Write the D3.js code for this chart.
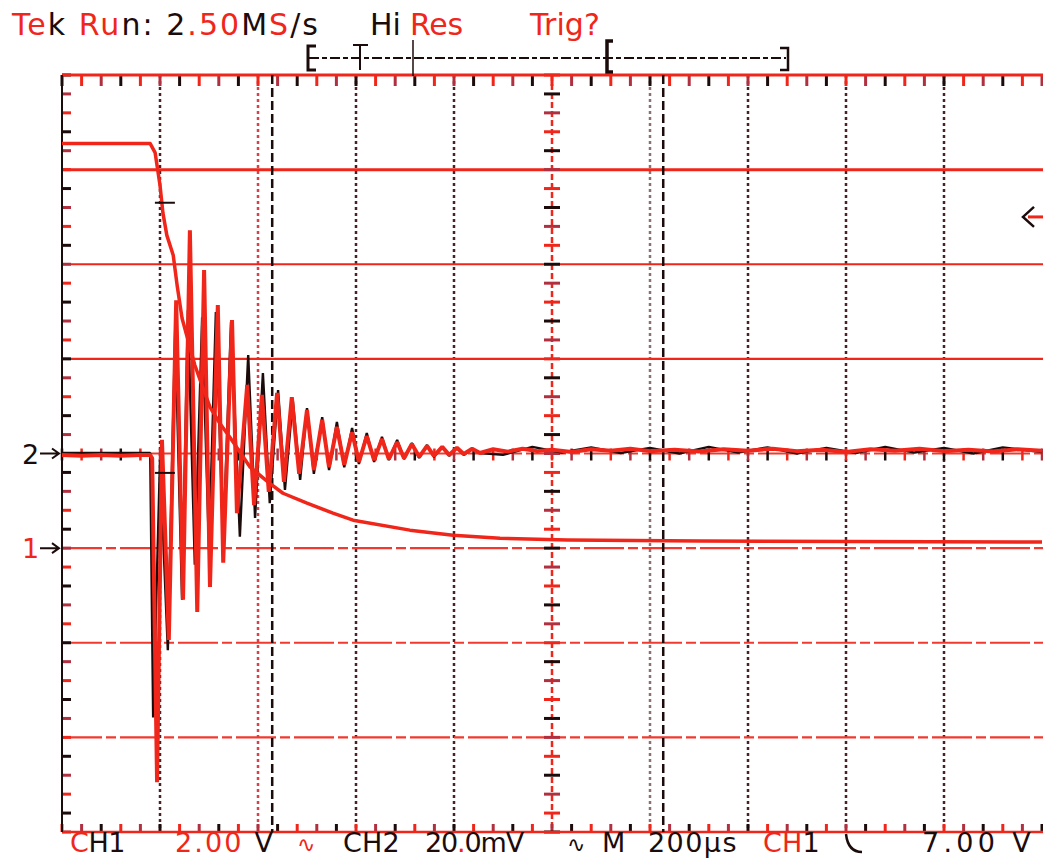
<!DOCTYPE html>
<html><head><meta charset="utf-8">
<script src="https://cdn.jsdelivr.net/npm/d3@7"></script>
<style>body{margin:0;background:#fff}svg{display:block}text{white-space:pre}</style>
</head><body>
<svg id="c" width="1043" height="859"></svg>
<script>
// ---- data (time in µs, CH1 in V, CH2 in mV) ----
const timeGrid = [0,200,400,600,800,1000,1200,1400,1600,1800,2000];
const ch1Grid = [-6,-4,-2,0,2,4,6,8,10];
const ch1Data = [[0,8.55],[180,8.55],[190,8.36],[200,7.67],[206,7.08],[214,6.61],[227,6.19],[235,5.55],[245,4.86],[261,4.25],[271,3.87],[282,3.55],[302,2.98],[322,2.64],[343,2.34],[363,2.03],[384,1.71],[424,1.37],[451,1.16],[500,0.95],[553,0.74],[594,0.59],[710,0.38],[798,0.27],[894,0.21],[1031,0.17],[1302,0.15],[2000,0.13]];
const ch2Black = [[0,0.1],[180,0.1],[186,-55.8],[200,-1.4],[216,-41.6],[231,26.1],[245,-30.9],[257,30.3],[271,-23.5],[286,28.8],[300,-20.4],[314,29.9],[329,-18.9],[345,27.8],[363,-17.6],[380,20.8],[394,-13.6],[410,17.0],[424,-10.5],[441,13.4],[455,-7.7],[471,11.3],[486,-5.6],[500,9.6],[514,-4.3],[531,7.7],[545,-3.5],[561,6.65],[576,-2.9],[592,5.4],[606,-2.2],[622,4.3],[637,-1.8],[653,3.5],[667,-1.4],[684,2.85],[698,-1.2],[714,2.2],[729,-0.95],[745,1.8],[759,-0.74],[776,1.4],[790,-0.5],[806,1.2],[820,-0.3],[837,1.0],[853,0.1],[900,-0.3],[960,1.4],[1020,0.2],[1080,1.3],[1140,0.1],[1200,1.2],[1260,0.0],[1320,1.4],[1380,0.2],[1440,1.3],[1500,0.0],[1560,1.2],[1620,0.1],[1680,1.4],[1740,0.2],[1800,1.2],[1860,0.0],[1920,1.3],[2000,0.3]];
const ch2Red = [[0,-0.3],[40,-0.5],[80,-0.3],[120,-0.5],[160,-0.3],[180,-0.3],[184,-1.0],[194,-69.5],[204,2.9],[218,-39.4],[233,32.4],[247,-30.9],[261,47.2],[276,-33.5],[290,38.8],[302,-28.2],[318,31.4],[329,-23.1],[347,28.2],[357,-12.6],[378,14.5],[392,-10.9],[408,12.4],[422,-8.1],[439,12.8],[453,-6.0],[469,11.9],[484,-4.3],[500,9.2],[514,-3.5],[531,7.1],[545,-2.9],[561,5.6],[576,-2.4],[592,4.5],[606,-1.8],[622,3.7],[637,-1.4],[653,3.1],[667,-1.2],[684,2.4],[698,-1.0],[714,2.0],[729,-0.7],[745,1.6],[759,-0.5],[776,1.4],[790,-0.3],[806,1.2],[820,-0.1],[837,1.0],[853,0.1],[880,0.9],[910,0.4],[940,1.0],[970,0.5],[1000,0.8],[1040,0.3],[1080,0.9],[1120,0.6],[1160,1.0],[1200,0.5],[1250,0.8],[1300,0.4],[1350,0.9],[1400,0.6],[1450,1.0],[1500,0.5],[1550,0.8],[1600,0.3],[1650,0.9],[1700,0.6],[1750,1.0],[1800,0.5],[1850,0.8],[1900,0.4],[1950,0.9],[2000,0.6]];
const cursorTimes = [429, 1227];
const crossMarks = [{t:210, ch:1, v:7.3}, {t:210, ch:2, v:-4.1}];
const trigLevel = 7.00;   // V on CH1
const headerTexts = ["Tek Run: 2.50MS/s", "Hi Res", "Trig?"];
const footerTexts = ["CH1", "2.00 V", "CH2", "20.0mV", "M", "200µs", "CH1", "7.00 V"];

// ---- scales ----
const RED = "#f0261a", DARK = "#1c0b0b";
const svg = d3.select("#c");
const x = d3.scaleLinear([0,2000],[62,1042]);
const y1 = d3.scaleLinear([-6,10],[832,75]);
const y2 = d3.scaleLinear([-80,80],[832,75]);
const X0 = x(0), X1 = x(2000), YT = y1(10), YB = y1(-6);

// ---- graticule ----
const g = svg.append("g");
g.selectAll(".vg").data(timeGrid.slice(1,-1)).join("line")
  .attr("x1", d=>x(d)).attr("x2", d=>x(d)).attr("y1", YT).attr("y2", YB)
  .attr("stroke", d=> d===1000 ? RED : (d===400 ? "#d8404a" : (d===1200 ? "#8a7070" : "#4a2226")))
  .attr("stroke-width", 2.5).attr("stroke-dasharray", d=> d===1000 ? "6,3" : "3,3");
g.selectAll(".hg").data(ch1Grid.slice(1,-1)).join("line")
  .attr("x1", X0).attr("x2", X1+2).attr("y1", d=>y1(d)).attr("y2", d=>y1(d))
  .attr("stroke", d=> d>=4 ? RED : "#f03a30")
  .attr("stroke-width", d=> d===8 ? 3 : 2.2)
  .attr("stroke-dasharray", d=> d>=4 ? null : "40,4,10,4");

const minorT = d3.range(0, 2001, 40);
const minorV = d3.range(-6, 10.001, 0.4);
const tickCol = (i)=> i%3===0 ? DARK : (i%3===1 ? RED : "#b03040");
g.selectAll(".tt").data(minorT).join("line")
  .attr("x1", d=>x(d)).attr("x2", d=>x(d)).attr("y1", YT).attr("y2", YT+11)
  .attr("stroke", (d,i)=>tickCol(i)).attr("stroke-width", 3);
g.selectAll(".bt").data(minorT).join("line")
  .attr("x1", d=>x(d)).attr("x2", d=>x(d)).attr("y1", YB).attr("y2", YB-8)
  .attr("stroke", (d,i)=>tickCol(i+1)).attr("stroke-width", 3);
g.selectAll(".lt").data(minorV).join("line")
  .attr("x1", X0).attr("x2", X0+9).attr("y1", d=>y1(d)).attr("y2", d=>y1(d))
  .attr("stroke", (d,i)=>tickCol(i+2)).attr("stroke-width", 3);
g.selectAll(".ch").data(minorT).join("line")
  .attr("x1", d=>x(d)).attr("x2", d=>x(d)).attr("y1", y1(2)-5).attr("y2", y1(2)+7)
  .attr("stroke", (d,i)=>tickCol(i)).attr("stroke-width", 2.5);
g.selectAll(".cv").data(minorV).join("line")
  .attr("x1", x(1000)-8).attr("x2", x(1000)+8).attr("y1", d=>y1(d)).attr("y2", d=>y1(d))
  .attr("stroke", (d,i)=>tickCol(i)).attr("stroke-width", 3);

g.append("line").attr("x1", X0).attr("x2", 1043).attr("y1", YT).attr("y2", YT).attr("stroke", RED).attr("stroke-width", 3);
g.append("line").attr("x1", X0).attr("x2", 1043).attr("y1", YB).attr("y2", YB).attr("stroke", RED).attr("stroke-width", 2.5);
g.append("line").attr("x1", X0).attr("x2", X0).attr("y1", YT).attr("y2", YB).attr("stroke", DARK).attr("stroke-width", 2);

g.selectAll(".cur").data(cursorTimes).join("line")
  .attr("x1", d=>x(d)).attr("x2", d=>x(d)).attr("y1", YT).attr("y2", YB)
  .attr("stroke", DARK).attr("stroke-width", 2.5).attr("stroke-dasharray", "9,4");

// ---- traces ----
const lineX = d=>x(d[0]);
const l1 = d3.line().x(lineX).y(d=>y1(d[1]));
const l2 = d3.line().x(lineX).y(d=>y2(d[1]));
svg.append("path").datum(ch2Black).attr("d", l2).attr("fill","none")
  .attr("stroke", DARK).attr("stroke-width", 2.4).attr("stroke-linejoin","bevel");
svg.append("path").datum(ch2Red).attr("d", l2).attr("fill","none")
  .attr("stroke", RED).attr("stroke-width", 4).attr("stroke-linejoin","bevel");
svg.append("path").datum(ch1Data).attr("d", l1).attr("fill","none")
  .attr("stroke", RED).attr("stroke-width", 3.5).attr("stroke-linejoin","round");

svg.selectAll(".cm").data(crossMarks).join("line")
  .attr("x1", d=>x(d.t)-10).attr("x2", d=>x(d.t)+10)
  .attr("y1", d=> d.ch===1 ? y1(d.v) : y2(d.v)).attr("y2", d=> d.ch===1 ? y1(d.v) : y2(d.v))
  .attr("stroke", DARK).attr("stroke-width", 2);

// ---- texts ----
const FONT = "DejaVu Sans";
const probe = svg.append("text").attr("font-family", FONT).attr("x", -2000).attr("y", -2000);
function measure(s, size, ls){
  probe.attr("font-size", size).attr("letter-spacing", ls || 0).text(s);
  return probe.node().getComputedTextLength();
}
// draw a string at a fixed font size, spread by letter-spacing to targetW, coloured in runs
function runText(str, x0, yp, targetW, size, runs){
  const ls = Math.max(-2, (targetW - measure(str, size, 0)) / str.length);
  (runs || [[0, str.length, DARK]]).forEach(([from, to, col])=>{
    const piece = str.slice(from, to);
    if (!piece.trim()) return;
    svg.append("text").attr("x", x0 + measure(str.slice(0, from), size, ls)).attr("y", yp)
      .attr("font-family", FONT).attr("font-size", size).attr("letter-spacing", ls)
      .attr("fill", col).text(piece);
  });
}

// ground / trigger markers
function arrow(yv, label, col){
  svg.append("text").attr("x", 22).attr("y", yv+10).attr("font-family", FONT)
    .attr("font-size", 27).attr("fill", col).text(label);
  svg.append("path").attr("d", `M40,${yv} L59,${yv} M52,${yv-5} L59,${yv} L52,${yv+5}`)
    .attr("stroke", DARK).attr("stroke-width", 2).attr("fill","none");
}
arrow(y2(0), "2", DARK);
arrow(y1(0), "1", RED);
const ty = y1(trigLevel);
svg.append("path").attr("d", `M1043,${ty} L1028,${ty}`).attr("stroke", RED).attr("stroke-width", 3);
svg.append("path").attr("d", `M1034,${ty-10} L1023,${ty} L1034,${ty+10}`).attr("stroke", DARK).attr("stroke-width", 2.5).attr("fill","none");

// record-length bar
const rb = svg.append("g").attr("stroke", DARK).attr("fill","none");
rb.append("line").attr("x1",309).attr("x2",786).attr("y1",58).attr("y2",58).attr("stroke-width",2).attr("stroke-dasharray","10,3,5,3");
rb.append("path").attr("d","M316,46 L308,46 L308,70 L316,70").attr("stroke-width",3);
rb.append("path").attr("d","M353,45 L368,45 M360,45 L360,70").attr("stroke-width",2);
rb.append("line").attr("x1",413).attr("x2",413).attr("y1",40).attr("y2",76).attr("stroke-width",1.5);
rb.append("path").attr("d","M613,41 L607,41 L607,72 L613,72").attr("stroke-width",3.5);
rb.append("path").attr("d","M780,48 L788,48 L788,70 L780,70").attr("stroke-width",2.5);

// header
runText(headerTexts[0], 12, 35, 308, 30,
  [[0,2,RED],[2,3,DARK],[4,6,RED],[6,8,DARK],[9,10,DARK],[10,13,RED],[13,14,DARK],[14,15,RED],[15,17,DARK]]);
runText(headerTexts[1], 370, 35, 93, 30, [[0,2,DARK],[3,6,RED]]);
runText(headerTexts[2], 530, 35, 70, 30, [[0,5,RED]]);

// footer
const fs = footerTexts, FY = 852, FS = 27;
runText(fs[0], 70, FY, 55, FS, [[0,1,RED],[1,3,DARK]]);
runText(fs[1], 175, FY, 100, FS, [[0,4,RED],[5,6,DARK]]);
runText("∿", 297, FY, 20, 22, [[0,1,RED]]);
runText(fs[2], 343, FY, 57, FS);
runText(fs[3], 425, FY, 98, FS, [[0,2,DARK],[2,3,RED],[3,6,DARK]]);
runText("∿", 567, FY, 22, 22);
runText(fs[4], 602, FY, 25, FS);
runText(fs[5], 648, FY, 90, FS);
runText(fs[6], 763, FY, 57, FS, [[0,2,RED],[2,3,DARK]]);
svg.append("path").attr("d","M846,834 Q848,852 862,852").attr("stroke",DARK).attr("stroke-width",2.5).attr("fill","none");
runText(fs[7], 922, FY, 113, FS);
probe.remove();
</script>
</body></html>
